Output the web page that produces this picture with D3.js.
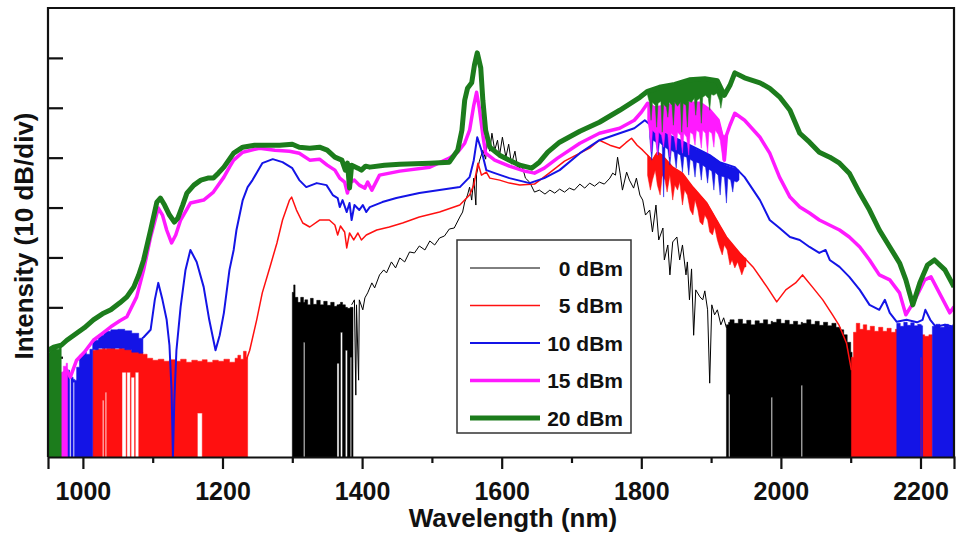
<!DOCTYPE html>
<html><head><meta charset="utf-8">
<script src="https://cdn.jsdelivr.net/npm/d3@7"></script>
<style>
body{margin:0;background:#fff}
svg{display:block}
text{font-family:"Liberation Sans",Arial,sans-serif;font-weight:bold;fill:#111}
</style>
</head><body>
<svg id="c" width="956" height="536"></svg>
<script>
// ---------------- DATA ----------------
const seriesNames = ["0 dBm","5 dBm","10 dBm","15 dBm","20 dBm"];
const xMajorTicks = [1000,1200,1400,1600,1800,2000,2200];
const xMinorTicks = [1100,1300,1500,1700,1900,2100];
const yTicks = [10,20,30,40,50,60,70,80];

// 0 dBm  [wavelength nm, dB]
const blackLine = [[1385,30.5],[1389,31.5],[1391,12.4],[1392,30.5],[1395,15.4],[1396,31.5],[1401,29.5],[1404,31.9],[1408,32.9],[1414,34.9],[1418,33.9],[1425,36.5],[1431,37.5],[1435,36.9],[1442,39.1],[1448,37.9],[1454,39.9],[1461,39.1],[1468,41.1],[1475,40.9],[1482,42.3],[1490,41.5],[1497,43.3],[1504,42.5],[1511,43.9],[1518,44.3],[1525,45.7],[1532,45.9],[1540,48.1],[1544,49.1],[1547,51.1],[1551,52.5],[1554,54.1],[1557,51.5],[1560,55.9],[1563,50.5],[1564,56.7],[1568,59.3],[1573,61.5],[1577,59.7],[1580,64.3],[1583,61.3],[1586,64.9],[1590,61.5],[1594,63.5],[1597,60.5],[1601,64.1],[1606,60.1],[1610,62.7],[1614,58.7],[1619,61.3],[1623,57.7],[1629,58.5],[1634,55.9],[1640,55.1],[1647,53.1],[1654,53.5],[1662,52.7],[1669,53.5],[1676,52.9],[1683,53.7],[1690,53.1],[1697,53.9],[1704,53.5],[1712,54.7],[1719,53.9],[1726,54.9],[1733,54.3],[1740,55.1],[1747,54.7],[1755,55.9],[1759,56.9],[1763,56.5],[1766,60.1],[1770,56.5],[1773,53.5],[1779,57.1],[1783,55.5],[1789,53.9],[1793,55.9],[1798,52.5],[1802,51.5],[1806,48.5],[1812,49.5],[1816,45.1],[1821,50.5],[1825,43.5],[1831,45.9],[1833,39.5],[1838,42.5],[1841,36.5],[1845,43.1],[1851,44.1],[1855,39.5],[1859,42.5],[1864,36.5],[1866,39.1],[1869,31.5],[1872,37.7],[1875,24.4],[1878,33.5],[1884,32.1],[1888,31.5],[1891,33.3],[1895,29.5],[1898,14.8],[1901,30.5],[1905,28.5],[1909,29.5],[1914,26.5],[1918,27.9],[1922,25.9]];
// noise-floor bands [wavelength, low dB, high dB]
const blackFloorL = [[1300,0,33],[1302,0,34.5],[1304,0,32],[1308,0,31],[1312,0,32],[1316,23,31],[1318,0,31.5],[1322,0,30.5],[1326,0,31.8],[1330,0,30.6],[1335,0,31.4],[1340,0,30.5],[1345,0,31.2],[1350,0,30.4],[1355,0,31],[1360,0,30.2],[1364,18.8,30.5],[1367,0,30.6],[1369,25,31],[1372,0,30.5],[1376,21.4,30],[1379,0,29.8],[1383,20,30],[1385,0,30],[1387,0,30]];
const blackFloorR = [[1922,0,26.5],[1925,12.6,27],[1927,0,27.5],[1933,0,26.8],[1939,0,27.6],[1945,0,26.7],[1951,0,27.4],[1957,0,26.5],[1963,0,27.3],[1969,0,26.8],[1975,0,27.5],[1981,0,26.6],[1986,12,27.2],[1988,0,27],[1994,0,27.6],[2000,0,26.8],[2006,0,27.4],[2012,0,26.6],[2018,0,27.2],[2024,0,26.5],[2029,14.4,27],[2031,0,26.8],[2037,0,27.5],[2043,0,26.6],[2049,0,27.2],[2055,0,26.4],[2061,0,27],[2067,0,26.3],[2073,0,26.8],[2079,0,26],[2085,0,25.5],[2090,0,24.5],[2095,0,23],[2100,0,21],[2102,0,21]];

// 5 dBm
const redLine = [[1234,19.4],[1239,21.4],[1249,27.5],[1257,32.9],[1268,38.1],[1278,42.9],[1286,47.5],[1296,51.5],[1299,52.1],[1306,49.5],[1315,46.9],[1325,46.1],[1339,47.5],[1353,47.5],[1361,46.5],[1365,44.5],[1369,46.3],[1375,45.1],[1378,41.9],[1382,44.9],[1388,43.5],[1394,44.9],[1399,43.5],[1406,44.5],[1421,45.5],[1439,46.1],[1458,46.9],[1482,48.1],[1511,49.1],[1540,50.5],[1554,52.5],[1560,54.5],[1566,58.9],[1571,56.5],[1578,57.1],[1583,55.9],[1597,55.5],[1611,54.9],[1626,54.5],[1647,54.7],[1668,56.9],[1690,59.3],[1712,60.9],[1726,61.9],[1740,63.5],[1755,62.5],[1769,61.9],[1778,63.0],[1786,63.9],[1794,62.5],[1802,61.5],[1816,59.5],[1823,61.1],[1830,60.5],[1845,58.1],[1859,56.9],[1874,54.1],[1894,50.9],[1908,47.5],[1922,44.1],[1941,40.9],[1960,38.1],[1980,34.1],[1994,31.1],[2007,33.5],[2021,34.9],[2031,36.5],[2045,34.1],[2060,31.5],[2074,28.5],[2083,26.5],[2094,22.8],[2101,17.4]];
const redFloorL = [[1014,0,21.4],[1018,0,21.8],[1022,0,21.6],[1028,11.4,21.8],[1030,0,22],[1032,13,21.6],[1034,0,21.8],[1040,0,22.1],[1046,0,21.6],[1052,0,22],[1056,17,21.8],[1062,0,21.6],[1063,17,21.6],[1068,0,21.8],[1069,16,21.4],[1074,0,21.6],[1075,17,21.2],[1080,0,21],[1086,0,20.6],[1092,0,19.8],[1100,0,19.4],[1108,0,19.6],[1116,0,19.2],[1124,0,19.5],[1132,0,19.2],[1140,0,19.6],[1148,0,19],[1156,0,19.4],[1164,8.8,19.2],[1171,0,19.5],[1178,0,19],[1186,0,19.4],[1194,0,19.2],[1202,0,19.6],[1210,0,19],[1218,0,19.8],[1222,0,20.4],[1226,0,19.6],[1230,0,21.2],[1234,0,20],[1236,0,20]];
const redNoise = [[1809,56.5,60.6],[1813,53.5,60],[1816,55.5,59.5],[1820,57.5,60.6],[1823,54.5,61.1],[1827,52.5,60.8],[1830,56.5,60.5],[1834,55.5,59.9],[1837,53.1,59.4],[1841,56.5,58.8],[1845,51.5,58.1],[1848,54.5,57.8],[1852,53.5,57.5],[1855,55.1,57.2],[1859,50.5,56.9],[1862,53.5,56.3],[1866,52.5,55.5],[1870,49.5,54.8],[1874,48.5,54.1],[1877,51.5,53.6],[1881,49.5,53.0],[1884,47.1,52.5],[1888,46.5,51.9],[1891,48.5,51.3],[1895,47.5,50.7],[1898,45.1,49.9],[1902,44.5,49.0],[1905,46.1,48.2],[1909,43.5,47.3],[1912,42.1,46.4],[1916,40.5,45.6],[1919,42.5,44.7],[1923,41.5,43.9],[1927,38.5,43.2],[1930,39.5,42.7],[1934,37.9,42.0],[1938,39.1,41.4],[1944,36.5,40.5],[1948,38.1,39.9],[1950,38.1,39.9]];
const redFloorR = [[2101,0,20],[2104,0,25],[2108,0,26.8],[2113,0,25.6],[2118,0,26.5],[2123,0,25.4],[2128,0,26.2],[2134,0,25.2],[2140,0,26],[2146,0,25.2],[2152,0,25.8],[2158,0,25],[2164,0,25.6],[2170,0,24.8],[2180,0,24.8],[2190,0,25],[2200,0,24.5],[2206,0,24.2],[2212,0,24.5],[2217,0,24.2]];

// 10 dBm
const blueLine = [[1085,23.8],[1087,24.0],[1097,25.5],[1103,31.5],[1108,34.9],[1114,31.5],[1120,27.5],[1124,22.4],[1127,13.4],[1129,0],[1131,11.4],[1134,21.4],[1140,30.1],[1147,37.5],[1154,41.5],[1163,39.1],[1173,34.1],[1181,27.5],[1190,21.4],[1196,24.4],[1202,28.9],[1210,37.5],[1216,41.5],[1220,45.5],[1229,51.5],[1236,54.1],[1243,55.5],[1257,58.9],[1272,59.7],[1286,59.1],[1300,57.9],[1310,55.5],[1320,54.1],[1335,54.9],[1349,54.5],[1358,52.5],[1365,51.9],[1368,50.1],[1372,51.5],[1378,49.1],[1382,50.9],[1385,47.5],[1389,50.5],[1396,49.5],[1401,50.5],[1406,49.1],[1411,50.1],[1429,51.1],[1449,51.9],[1482,52.9],[1511,53.5],[1540,54.1],[1554,56.1],[1560,59.5],[1565,64.1],[1571,61.5],[1578,57.5],[1590,56.9],[1611,55.9],[1640,54.9],[1661,55.9],[1683,57.5],[1712,60.9],[1740,63.5],[1769,64.9],[1790,65.9],[1805,67.5],[1812,66.7],[1819,66.1],[1833,64.9],[1855,63.5],[1884,61.5],[1898,60.5],[1912,59.1],[1934,58.1],[1948,56.1],[1970,51.5],[1984,47.5],[1998,45.9],[2013,44.1],[2027,43.5],[2041,42.1],[2055,40.9],[2064,41.5],[2070,39.5],[2084,38.1],[2098,36.1],[2113,33.5],[2127,30.5],[2141,29.5],[2149,31.5],[2156,28.9],[2166,27.1],[2180,27.5],[2195,27.0],[2203,27.5],[2207,29.5],[2214,27.5],[2222,26.1],[2235,26.5],[2248,26.1]];
const blueFloorL = [[967,0,13],[971,0,17],[977,0,17.4],[981,16,16.6],[983,0,16],[986,15,15.6],[988,0,15.4],[991,0,18],[995,0,20.4],[1000,0,21],[1005,0,20.6],[1010,0,21.6],[1014,21.5,23.4],[1022,21.8,24.4],[1030,21.8,25.2],[1040,21.8,25.5],[1050,21.8,25.6],[1060,21.5,25.3],[1070,21.0,24.8],[1080,20.8,23.8],[1086,21,23.8]];
const blueNoise = [[1812,64.1,66.7],[1815,59.5,66.5],[1817,63.5,66.3],[1821,63.1,66.0],[1824,60.5,65.7],[1826,63.1,65.5],[1830,62.5,65.1],[1832,52.1,65.0],[1834,62.1,64.9],[1838,61.7,64.5],[1841,58.5,64.3],[1843,61.5,64.2],[1847,61.1,64.0],[1850,57.9,63.8],[1852,60.9,63.7],[1856,60.5,63.5],[1859,57.1,63.3],[1861,60.3,63.1],[1865,60.1,62.8],[1868,56.5,62.6],[1870,59.7,62.4],[1874,59.3,62.1],[1877,56.1,61.9],[1879,59.1,61.7],[1883,58.9,61.5],[1886,55.5,61.3],[1888,58.5,61.2],[1892,58.1,61.0],[1895,54.9,60.8],[1897,57.7,60.6],[1901,57.3,60.2],[1904,53.5,60.0],[1906,57.1,59.8],[1910,56.5,59.4],[1913,52.5,59.1],[1915,56.3,59.0],[1919,56.1,58.7],[1922,50.9,58.5],[1924,55.9,58.4],[1928,55.5,58.2],[1931,53.1,58.1],[1933,55.3,58.0],[1937,55.1,57.7],[1940,55.5,57.5]];
const blueFloorR1 = [[2166,0,26.8],[2171,0,26.2],[2176,0,27.0],[2181,0,26.4],[2186,0,26.9],[2191,0,26.3],[2196,0,26.6],[2200,20,26.5],[2201.5,0,26.3],[2203,0,26.3]];
const blueFloorR2 = [[2217,0,26.2],[2222,0,26.6],[2228,0,26.0],[2234,0,26.6],[2240,0,26.2],[2246,0,26.5],[2250,0,26.5]];

// 15 dBm
const magentaLine = [[965,14],[970,16.5],[977,17.4],[982,16.0],[991,19.4],[1002,21.0],[1015,23.4],[1028,24.8],[1040,26.1],[1053,27.3],[1063,28.1],[1077,32.1],[1087,37.5],[1097,44.1],[1108,49.9],[1114,48.5],[1120,45.5],[1127,42.9],[1133,44.5],[1140,47.5],[1154,50.9],[1173,51.5],[1187,53.1],[1202,56.1],[1210,58.1],[1216,59.5],[1229,61.1],[1253,61.9],[1275,61.5],[1296,61.3],[1310,60.9],[1325,59.5],[1339,59.7],[1350,58.5],[1361,57.5],[1368,55.9],[1375,55.1],[1379,52.9],[1382,54.9],[1389,55.5],[1396,54.5],[1404,53.9],[1408,55.1],[1414,53.5],[1425,56.5],[1454,57.3],[1497,58.1],[1525,59.9],[1537,61.1],[1547,62.9],[1554,65.5],[1560,70.5],[1564,73.1],[1568,69.9],[1573,64.5],[1577,60.9],[1590,59.5],[1611,58.3],[1633,57.3],[1647,56.9],[1661,57.9],[1680,59.9],[1712,62.9],[1740,64.9],[1769,65.9],[1790,67.5],[1800,69.1],[1809,70.9],[1819,69.9],[1841,70.5],[1869,70.9],[1884,70.9],[1898,69.5],[1910,67.5],[1917,63.5],[1919,59.5],[1922,64.5],[1927,66.5],[1934,68.9],[1948,67.5],[1970,64.1],[1984,60.9],[1998,56.1],[2013,52.1],[2027,50.1],[2041,48.9],[2055,47.5],[2084,45.5],[2098,44.1],[2113,42.1],[2127,39.5],[2141,36.5],[2156,35.5],[2170,32.9],[2179,28.5],[2192,31.5],[2206,35.5],[2215,36.1],[2227,32.9],[2242,28.9],[2248,30.1]];
const magentaFloorL = [[962,0,12.8],[965,0,15],[968,0,17],[972,0,18.2],[976,0,18.8],[978,0,18.8]];
const magentaNoise = [[1809,67.5,70.9],[1812,65.1,70.7],[1814,61.1,70.5],[1816,65.5,70.3],[1820,64.9,70.1],[1823,60.5,70.0],[1825,65.1,70.1],[1829,64.5,70.2],[1832,62.1,70.3],[1834,65.1,70.3],[1838,64.7,70.4],[1841,60.1,70.5],[1843,64.9,70.6],[1847,64.3,70.6],[1850,61.5,70.7],[1852,65.1,70.8],[1856,64.5,70.9],[1859,60.9,70.9],[1861,64.9,70.9],[1865,64.1,70.9],[1868,60.5,70.9],[1870,65.1,70.9],[1874,64.7,70.9],[1877,62.5,70.9],[1879,65.5,70.9],[1883,65.1,70.9],[1886,61.9,70.8],[1888,65.5,70.7],[1892,64.9,70.3],[1895,60.9,69.9],[1897,65.3,69.6],[1901,64.9,69.1],[1904,62.1,68.7],[1906,65.5,68.3],[1910,64.7,67.6],[1913,63.5,66.5],[1917,59.5,64.5],[1921,60.5,64.5]];

// 20 dBm
const greenLine = [[950,21.4],[958,22.0],[969,22.4],[977,23.4],[991,24.8],[1002,25.9],[1015,27.5],[1028,28.7],[1040,29.5],[1053,30.9],[1063,32.1],[1073,34.1],[1080,36.5],[1087,39.5],[1097,45.5],[1106,51.1],[1111,51.9],[1117,50.5],[1124,48.5],[1131,47.1],[1136,47.9],[1143,50.5],[1149,52.9],[1159,54.5],[1169,55.5],[1179,55.9],[1187,55.9],[1194,56.9],[1202,58.1],[1209,59.5],[1216,60.9],[1229,62.1],[1246,62.5],[1263,62.5],[1282,62.5],[1300,62.7],[1310,62.1],[1325,61.9],[1339,62.1],[1350,61.5],[1361,60.1],[1371,59.5],[1376,57.5],[1379,58.9],[1382,53.9],[1385,58.5],[1394,57.9],[1399,57.5],[1405,58.3],[1411,58.1],[1432,58.5],[1454,58.7],[1497,58.9],[1525,59.1],[1532,60.5],[1537,61.5],[1543,65.5],[1547,71.5],[1551,73.9],[1557,75.0],[1561,78.6],[1565,81.0],[1570,78.0],[1573,71.5],[1577,65.5],[1583,62.1],[1597,60.5],[1611,59.5],[1626,58.5],[1643,57.9],[1654,59.1],[1666,61.1],[1683,63.1],[1712,65.3],[1740,67.1],[1769,69.5],[1798,72.1],[1809,73.3],[1826,74.1],[1848,74.7],[1869,75.6],[1891,75.8],[1909,75.4],[1919,72.5],[1927,74.5],[1934,77.0],[1948,76.0],[1970,75.0],[1984,73.9],[1998,72.2],[2013,69.5],[2027,64.9],[2041,63.1],[2055,61.1],[2070,60.1],[2084,58.9],[2098,56.9],[2113,52.9],[2127,49.5],[2141,45.5],[2156,42.1],[2170,38.9],[2179,35.5],[2189,30.5],[2199,34.9],[2210,38.5],[2220,39.5],[2235,37.5],[2248,34.1]];
const greenFloorL = [[950,0,21],[953,0,21.8],[957,0,22],[962,0,21.6],[966,0,22],[969,0,22]];
const greenNoise = [[1809,72.5,73.3],[1812,70.9,73.5],[1814,67.5,73.6],[1816,71.1,73.7],[1820,70.5,73.9],[1822,66.1,74.0],[1824,70.9,74.1],[1828,71.3,74.2],[1830,65.1,74.2],[1832,70.7,74.3],[1836,70.1,74.4],[1838,68.1,74.4],[1840,71.1,74.5],[1844,70.5,74.6],[1846,66.5,74.6],[1848,71.1,74.7],[1852,70.3,74.9],[1856,71.1,75.0],[1858,65.1,75.1],[1860,70.9,75.2],[1864,70.5,75.4],[1866,66.1,75.5],[1868,71.3,75.6],[1872,71.1,75.7],[1876,71.9,75.7],[1878,68.5,75.7],[1880,71.5,75.8],[1884,71.9,75.8],[1886,66.9,75.8],[1888,72.1,75.8],[1892,72.5,75.7],[1896,71.9,75.6],[1898,69.5,75.6],[1900,72.7,75.5],[1904,72.5,75.4],[1908,72.9,75.4],[1912,71.5,74.8],[1914,69.9,74.4],[1917,72.5,73.5],[1921,72.5,73.5]];

// ---------------- CHART ----------------
// each band: [data, curve type] ("step" = noise floor, "lin" = noisy envelope)
const series = [
  {name:seriesNames[0], color:"#000000", w:1,   line:blackLine,   bands:[[blackFloorL,"step"],[blackFloorR,"step"]]},
  {name:seriesNames[1], color:"#ff1010", w:1.5, line:redLine,     bands:[[redFloorL,"step"],[redNoise,"lin"],[redFloorR,"step"]]},
  {name:seriesNames[2], color:"#1414e6", w:2,   line:blueLine,    bands:[[blueFloorL,"step"],[blueNoise,"lin"],[blueFloorR1,"step"],[blueFloorR2,"step"]]},
  {name:seriesNames[3], color:"#ff1aff", w:3.5, line:magentaLine, bands:[[magentaFloorL,"step"],[magentaNoise,"lin"]]},
  {name:seriesNames[4], color:"#1c7c1c", w:5,   line:greenLine,   bands:[[greenFloorL,"step"],[greenNoise,"lin"]]}
];

const svg = d3.select("#c");
const L = 48, R = 954, T = 8, B = 457;
const x = d3.scaleLinear().domain([950, 2248]).range([L, R]);
const y = d3.scaleLinear().domain([0, 90]).range([B, T]);

svg.append("defs").append("clipPath").attr("id","clip")
  .append("rect").attr("x",L).attr("y",T).attr("width",R-L).attr("height",B-T);

// y ticks (inside, under data)
const gy = svg.append("g").attr("transform",`translate(${L},0)`)
  .call(d3.axisRight(y).tickValues(yTicks).tickSize(15).tickFormat(""));
gy.select(".domain").remove();
gy.selectAll("line").attr("stroke","#111").attr("stroke-width",2.2);

const plot = svg.append("g").attr("clip-path","url(#clip)");
const areaStep = d3.area().x(d=>x(d[0])).y0(d=>y(d[1])).y1(d=>y(d[2])).curve(d3.curveStepAfter);
const areaLin = d3.area().x(d=>x(d[0])).y0(d=>y(d[1])).y1(d=>y(d[2]));
const line = d3.line().x(d=>x(d[0])).y(d=>y(d[1]));

series.forEach(s=>{
  const g = plot.append("g");
  s.bands.forEach(([b,kind])=>{
    g.append("path").attr("d",(kind==="step"?areaStep:areaLin)(b))
      .attr("fill",s.color).attr("stroke",s.color).attr("stroke-width",0.5);
  });
  g.append("path").attr("d",line(s.line)).attr("fill","none")
    .attr("stroke",s.color).attr("stroke-width",s.w).attr("stroke-linejoin","round");
});

// frame
svg.append("path").attr("d",`M${L},${B}V${T}H${R}V${B}`).attr("fill","none")
  .attr("stroke","#111").attr("stroke-width",2.2);

// x axis
const gx = svg.append("g").attr("transform",`translate(0,${B})`)
  .call(d3.axisBottom(x).tickValues(xMajorTicks).tickSize(12).tickPadding(13).tickFormat(d3.format("d")));
gx.select(".domain").attr("stroke","#111").attr("stroke-width",2.2);
gx.selectAll("line").attr("stroke","#111").attr("stroke-width",2.2);
gx.selectAll("text").style("font-size","25px").attr("fill","#111");
const gxm = svg.append("g").attr("transform",`translate(0,${B})`)
  .call(d3.axisBottom(x).tickValues(xMinorTicks).tickSize(6).tickFormat(""));
gxm.select(".domain").remove();
gxm.selectAll("line").attr("stroke","#111").attr("stroke-width",2.2);

// titles
svg.append("text").attr("x",513).attr("y",527).attr("text-anchor","middle")
  .style("font-size","26px").text("Wavelength (nm)");
svg.append("text").attr("transform","translate(33,236) rotate(-90)").attr("text-anchor","middle")
  .style("font-size","26px").text("Intensity (10 dB/div)");

// legend
const lg = svg.append("g");
lg.append("rect").attr("x",457).attr("y",240).attr("width",174).attr("height",193)
  .attr("fill","#fff").attr("stroke","#333").attr("stroke-width",1.5);
series.forEach((s,i)=>{
  const yy = 268 + i*37.5;
  lg.append("line").attr("x1",470).attr("x2",540).attr("y1",yy).attr("y2",yy)
    .attr("stroke",s.color).attr("stroke-width",s.w);
  lg.append("text").attr("x",623).attr("y",yy+7.5).attr("text-anchor","end")
    .style("font-size","21px").text(s.name);
});
</script>
</body></html>
